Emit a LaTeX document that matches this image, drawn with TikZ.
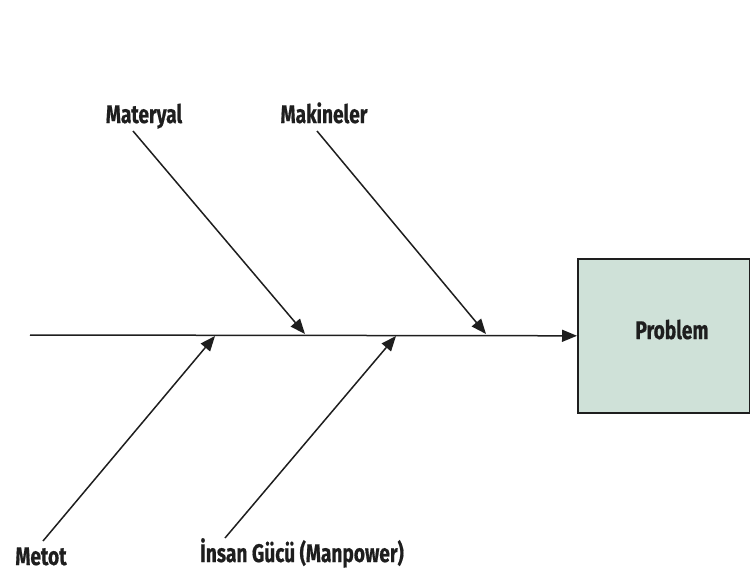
\documentclass[tikz,border=0pt]{standalone}
\usepackage{fontspec}
\setmainfont{Fira Sans}[FakeStretch=0.75, BoldFeatures={FakeBold=0.6}]
\usetikzlibrary{arrows.meta}
\definecolor{boxfill}{RGB}{207,225,216}
\definecolor{ink}{RGB}{30,30,30}
\begin{document}
\begin{tikzpicture}[x=1pt,y=-1pt,
  lbl/.style={font=\bfseries\fontsize{25.5}{30}\selectfont, text=ink, inner sep=0pt, anchor=base},
  bone/.style={line width=1.5pt, draw=ink, -{Triangle[length=15pt,width=12pt]}},
  effect/.style={draw=ink, line width=1.6pt, fill=boxfill, minimum width=172pt,
    minimum height=154pt, anchor=north west, inner sep=0pt}
]
\useasboundingbox (0,0) rectangle (750,574);

% effect box and main spine
\node[effect] (prob) at (577,258) {};
\node[lbl] (probtxt) at (672,339) {Problem};
\coordinate (spinestart) at (30,335);
\draw[bone] (spinestart) -- (prob.west);

% cause labels
\node[lbl] (materyal) at (144,123) {Materyal};
\node[lbl] (makine) at (324,123) {Makineler};
\node[lbl] (metot) at (41,565) {Metot};
\node[lbl] (insan) at (302,562) {İnsan Gücü (Manpower)};

% bone ends and where they meet the spine
\coordinate (t1) at (133,131);
\coordinate (h1) at (305,334);
\coordinate (t2) at (317,131);
\coordinate (h2) at (486,334);
\coordinate (t3) at (43,541);
\coordinate (h3) at (215,336);
\coordinate (t4) at (225,538);
\coordinate (h4) at (396,336);

\draw[bone] (t1) -- (h1);
\draw[bone] (t2) -- (h2);
\draw[bone] (t3) -- (h3);
\draw[bone] (t4) -- (h4);
\end{tikzpicture}
\end{document}
